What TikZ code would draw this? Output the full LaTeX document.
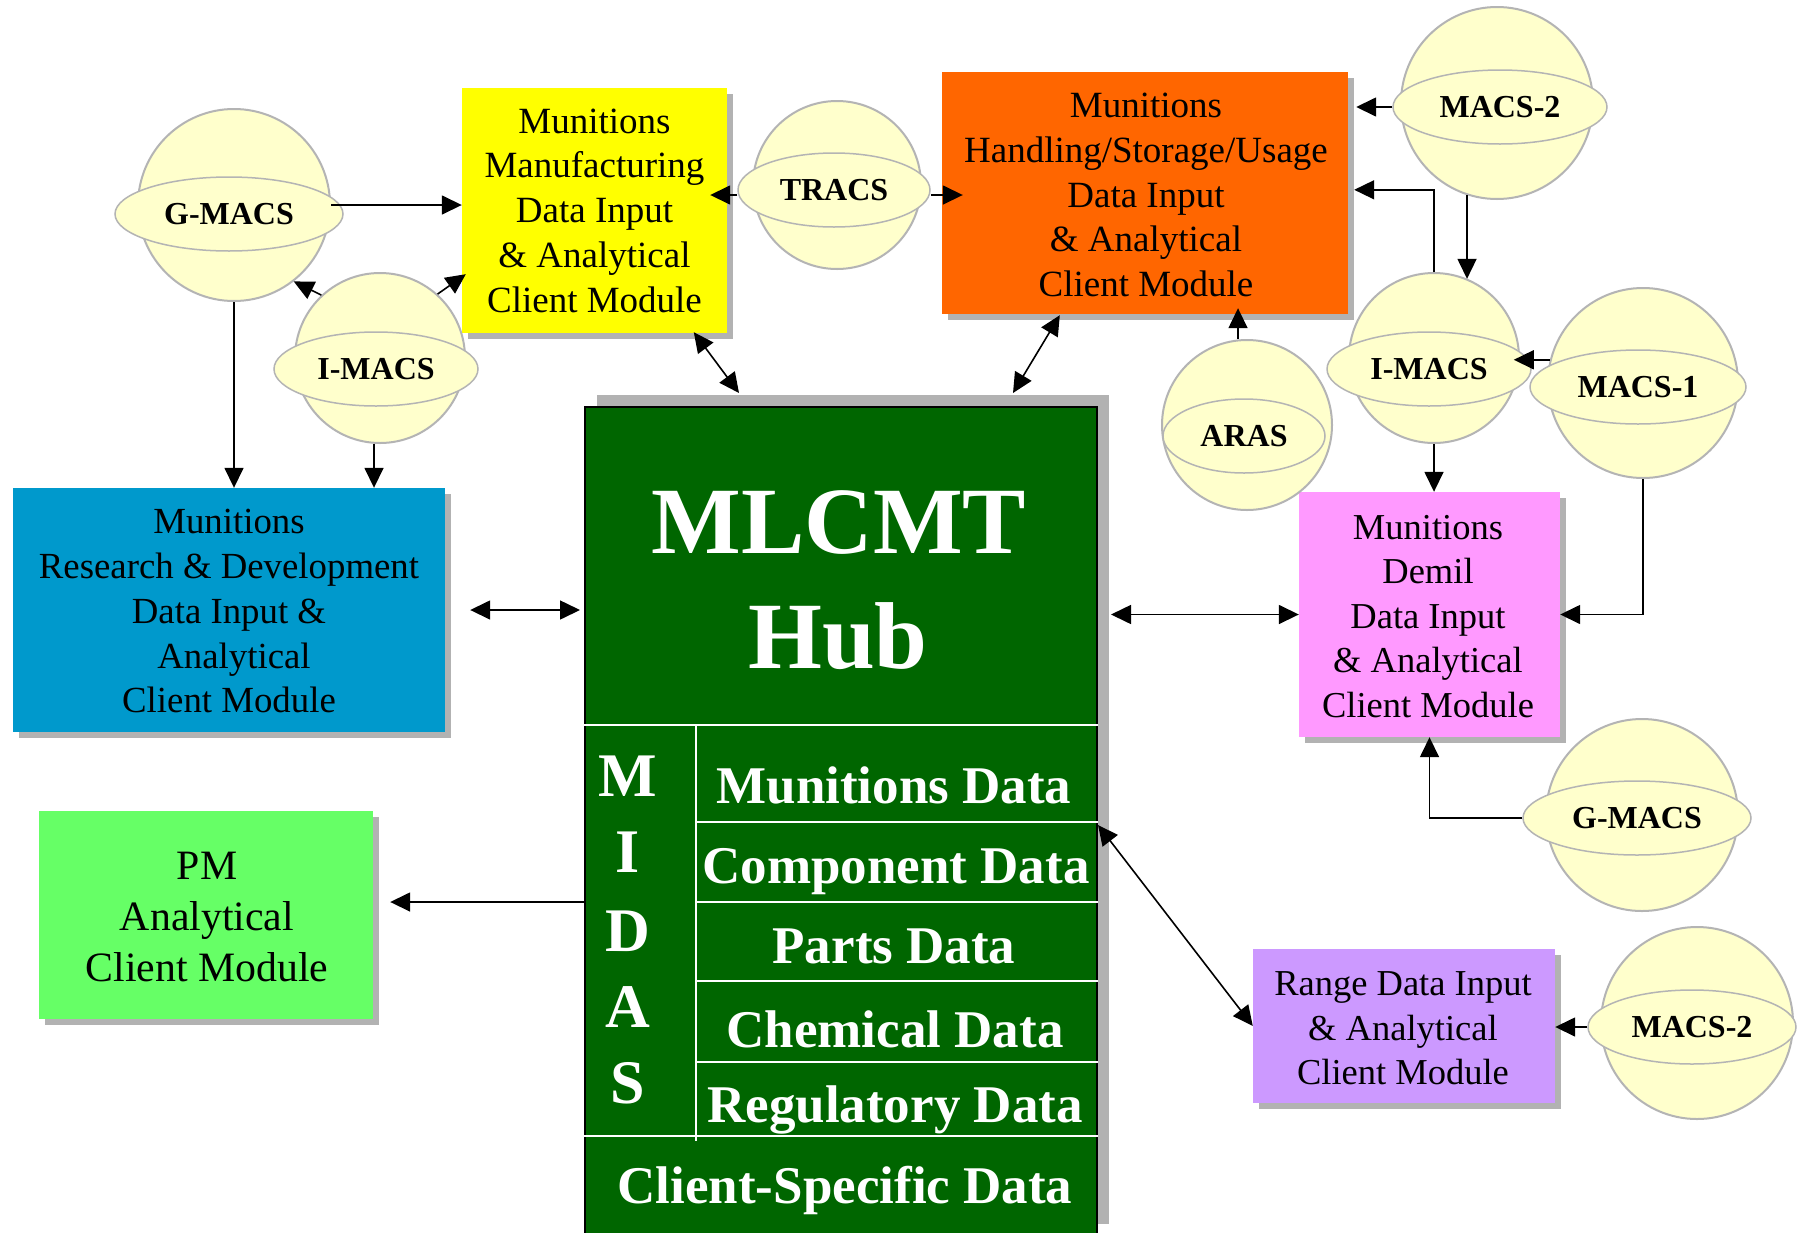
\documentclass[tikz,border=0pt]{standalone}
\usepackage{fontspec}
\setmainfont{Liberation Serif}
\usetikzlibrary{arrows.meta,shapes.geometric,calc,shadows}
\definecolor{sph}{HTML}{FFFFCC}
\definecolor{sphline}{HTML}{B4B4B4}
\definecolor{shad}{HTML}{B2B2B2}
\definecolor{hubg}{HTML}{006600}
\definecolor{cyel}{HTML}{FFFF00}
\definecolor{cora}{HTML}{FF6600}
\definecolor{cblu}{HTML}{0099CC}
\definecolor{cgrn}{HTML}{66FF66}
\definecolor{cpnk}{HTML}{FF99FF}
\definecolor{cpur}{HTML}{CC99FF}
\begin{document}
\begin{tikzpicture}[x=1pt,y=-1pt,
  box/.style={inner sep=0pt, draw=none,
    drop shadow={shadow xshift=6pt, shadow yshift=-6pt, fill=shad, opacity=1}},
  txt/.style={align=center, inner sep=0pt, text=black},
  sphc/.style={circle, fill=sph, draw=sphline, line width=2pt, inner sep=0pt},
  sphe/.style={ellipse, fill=sph, draw=sphline, line width=1.5pt, inner sep=0pt,
    minimum height=74pt, font=\fontsize{32}{36}\selectfont\bfseries},
  hubtxt/.style={inner sep=0pt, text=white, anchor=base},
  wl/.style={draw=white, line width=1.6pt},
  arr/.style={-{Triangle[length=20pt,width=19pt]}, line width=1.6pt},
  darr/.style={{Triangle[length=20pt,width=19pt]}-{Triangle[length=20pt,width=19pt]}, line width=1.6pt},
]
\useasboundingbox (0,0) rectangle (1802,1232);
\fill[white] (0,0) rectangle (1802,1232);
\clip (0,0) rectangle (1802,1232);

% ---------- boxes ----------
\node[box, fill=cyel, minimum width=265pt, minimum height=245pt] (yel) at (594.5,210.5) {};
\node[box, fill=cora, minimum width=406pt, minimum height=242pt] (ora) at (1145,193) {};
\node[box, fill=cblu, minimum width=432pt, minimum height=244pt] (blu) at (229,610) {};
\node[box, fill=cgrn, minimum width=334pt, minimum height=208pt] (pm) at (206,915) {};
\node[box, fill=cpnk, minimum width=261pt, minimum height=245pt] (pnk) at (1429.5,614.5) {};
\node[box, fill=cpur, minimum width=302pt, minimum height=154pt] (rng) at (1404,1026) {};

\node[txt, font=\fontsize{37}{44.7}\selectfont, anchor=north] (yelT) at (594.5,103)
  {\rule{0pt}{30pt}Munitions\\Manufacturing\\Data Input\\\& Analytical\\Client Module};
\node[txt, font=\fontsize{37}{44.7}\selectfont, anchor=north] (oraT) at (1146,87.5)
  {\rule{0pt}{30pt}Munitions\\Handling/Storage/Usage\\Data Input\\\& Analytical\\Client Module};
\node[txt, font=\fontsize{36.8}{44.8}\selectfont, anchor=north] (bluT) at (229,503.5)
  {\rule{0pt}{30pt}Munitions\\Research \& Development\\Data Input \&\\\hspace*{10pt}Analytical\\Client Module};
\node[txt, font=\fontsize{41.8}{51}\selectfont, anchor=north] (pmT) at (207,849)
  {\rule{0pt}{30pt}PM\\Analytical\\Client Module};
\node[txt, font=\fontsize{36.5}{44.6}\selectfont, anchor=north] (pnkT) at (1428,508.8)
  {\rule{0pt}{30pt}Munitions\\Demil\\Data Input\\\& Analytical\\Client Module};
\node[txt, font=\fontsize{36.5}{44.2}\selectfont, anchor=north] (rngT) at (1403,965.7)
  {\rule{0pt}{30pt}Range Data Input\\\& Analytical\\Client Module};

% ---------- hub ----------
\node[draw=black, line width=2pt, fill=hubg, minimum width=512pt, minimum height=829pt, inner sep=0pt,
  drop shadow={shadow xshift=12pt, shadow yshift=12pt, fill=shad, opacity=1}] (hub) at (841,821.5) {};
\draw[wl] ($(hub.north west)+(0,319)$) -- ($(hub.north east)+(0,319)$);
\draw[wl] ($(hub.north west)+(112,319)$) -- ($(hub.north west)+(112,735)$);
\draw[wl] ($(hub.north west)+(112,416)$) -- ($(hub.north east)+(0,416)$);
\draw[wl] ($(hub.north west)+(112,496)$) -- ($(hub.north east)+(0,496)$);
\draw[wl] ($(hub.north west)+(112,575)$) -- ($(hub.north east)+(0,575)$);
\draw[wl] ($(hub.north west)+(112,656)$) -- ($(hub.north east)+(0,656)$);
\draw[wl] ($(hub.north west)+(0,730)$) -- ($(hub.north east)+(0,730)$);

\node[hubtxt, font=\fontsize{95}{100}\selectfont\bfseries] (hubA) at (839,553) {MLCMT};
\node[hubtxt, font=\fontsize{95}{100}\selectfont\bfseries] (hubB) at (838,668) {Hub};
\node[hubtxt, font=\fontsize{62}{66}\selectfont\bfseries] (mM) at (628,796) {M};
\node[hubtxt, font=\fontsize{62}{66}\selectfont\bfseries] (mI) at (628,872) {I};
\node[hubtxt, font=\fontsize{62}{66}\selectfont\bfseries] (mD) at (628,951) {D};
\node[hubtxt, font=\fontsize{62}{66}\selectfont\bfseries] (mA) at (628,1027) {A};
\node[hubtxt, font=\fontsize{62}{66}\selectfont\bfseries] (mS) at (628,1103) {S};
\node[hubtxt, font=\fontsize{53}{58}\selectfont\bfseries] (r1) at (894,803) {Munitions Data};
\node[hubtxt, font=\fontsize{53}{58}\selectfont\bfseries] (r2) at (896,883) {Component Data};
\node[hubtxt, font=\fontsize{53}{58}\selectfont\bfseries] (r3) at (894,963) {Parts Data};
\node[hubtxt, font=\fontsize{53}{58}\selectfont\bfseries] (r4) at (895,1047) {Chemical Data};
\node[hubtxt, font=\fontsize{53}{58}\selectfont\bfseries] (r5) at (895,1122) {Regulatory Data};
\node[hubtxt, font=\fontsize{53}{58}\selectfont\bfseries] (r6) at (845,1203) {Client-Specific Data};

% ---------- spheres ----------
\node[sphc, minimum size=192pt] (gmAc) at (234,205) {};
\node[sphe, minimum width=228pt] (gmAe) at (229,214) {G-MACS};
\node[sphc, minimum size=170pt] (imAc) at (380,358) {};
\node[sphe, minimum width=204pt] (imAe) at (376,369) {I-MACS};
\node[sphc, minimum size=168pt] (trc) at (837,185) {};
\node[sphe, minimum width=192pt] (tre) at (834,190) {TRACS};
\node[sphc, minimum size=192pt] (m2Ac) at (1497,103) {};
\node[sphe, minimum width=214pt] (m2Ae) at (1500,107) {MACS-2};
\node[sphc, minimum size=170pt] (imBc) at (1434,358) {};
\node[sphe, minimum width=204pt] (imBe) at (1429,369) {I-MACS};
\node[sphc, minimum size=190pt] (m1c) at (1643,383) {};
\node[sphe, minimum width=216pt] (m1e) at (1638,387) {MACS-1};
\node[sphc, minimum size=170pt] (arc) at (1247,425) {};
\node[sphe, minimum width=162pt] (are) at (1244,436) {ARAS};
\node[sphc, minimum size=192pt] (gmBc) at (1642,815) {};
\node[sphe, minimum width=228pt] (gmBe) at (1637,818) {G-MACS};
\node[sphc, minimum size=192pt] (m2Bc) at (1697,1023) {};
\node[sphe, minimum width=208pt] (m2Be) at (1692,1027) {MACS-2};

% ---------- connectors ----------
\draw[arr] (gmAc.east) -- (gmAc.east -| yel.west);
\draw[arr] (imAc.133) -- (gmAc.-52);
\draw[arr] (imAc.48) -- ($(yel.south west)+(4,-59)$);
\draw[arr] (gmAc.south) -- (gmAc.south |- blu.north);
\draw[arr] (imAc.-94) -- (imAc.-94 |- blu.north);
\draw[darr] ($(yel.south west)+(232,-1)$) -- ($(hub.north west)+(155,-13)$);
\draw[arr] ($(tre.west)+(0,5)$) -- ($(yel.east |- tre.west)+(-17,5)$);
\draw[arr] ($(tre.east)+(0,5)$) -- ($(ora.west |- tre.east)+(21,5)$);
\draw[darr] ($(ora.south west)+(118,1)$) -- ($(hub.north west)+(429,-13)$);
\draw[arr] (m2Ae.west) -- ($(m2Ae.west -| ora.east)+(8,0)$);
\draw[arr] (imBc.north) |- ($(ora.north east)+(6,118)$);
\draw[arr] (m2Ac.-108) -- (m2Ac.-108 |- imBc.67);
\draw[arr] (m1c.166) -- ($(m1c.166 -| imBe.east)+(-18,0)$);
\draw[arr] (arc.96) -- ($(arc.96 |- ora.south)+(0,-6)$);
\draw[arr] (imBc.south) -- (imBc.south |- pnk.north);
\draw[arr] (m1c.south) |- (pnk.east);
\draw[darr] ($(hub.east |- pnk.west)+(13,0)$) -- (pnk.west);
\draw[arr] (gmBe.west) -| (pnk.south);
\draw[arr] (m2Be.west) -- (m2Be.west -| rng.east);
\draw[darr] ($(hub.north east)+(0,419)$) -- (rng.west);
\draw[darr] ($(blu.east)+(25,0)$) -- ($(hub.west |- blu.east)+(-4,0)$);
\draw[arr] ($(hub.north west)+(0,496)$) -- ($(pm.east |- hub.north west)+(17,496)$);
\end{tikzpicture}
\end{document}
